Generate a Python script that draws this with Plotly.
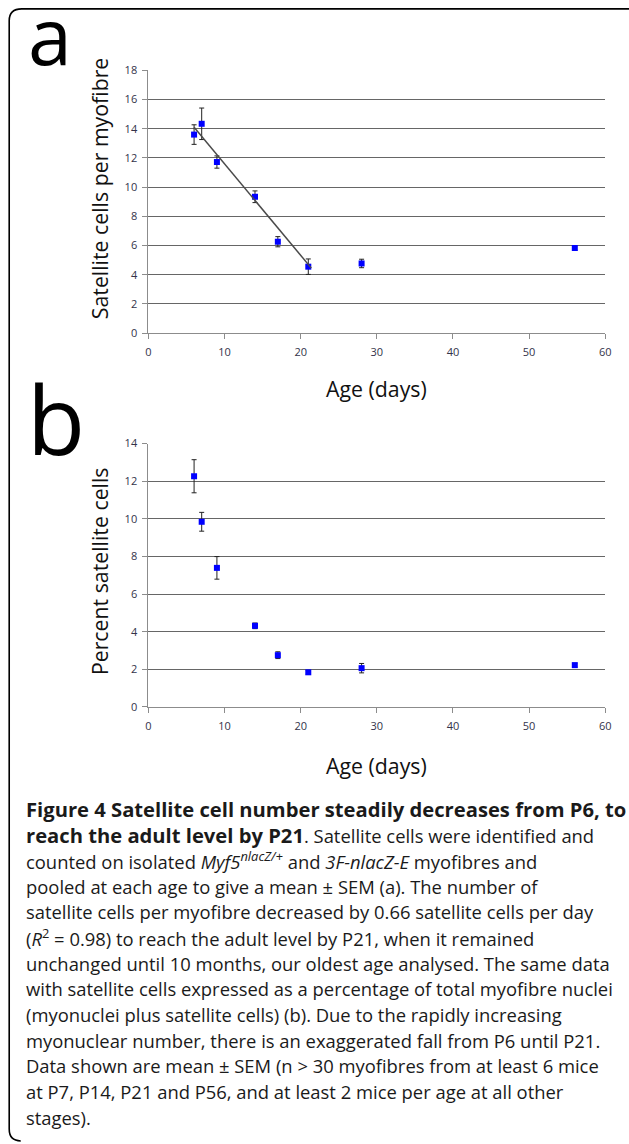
import plotly.graph_objects as go

W, H = 629, 1144

# ---------------- data ----------------
age = [6, 7, 9, 14, 17, 21, 28, 56]
sc_per_fibre = [13.6, 14.34, 11.72, 9.34, 6.26, 4.55, 4.77, 5.83]
sc_per_fibre_sem = [0.67, 1.08, 0.42, 0.40, 0.35, 0.53, 0.29, 0.15]
trend_x = [6, 21.4]
trend_y = [14.1, 4.45]
pct_sc = [12.26, 9.84, 7.39, 4.31, 2.75, 1.84, 2.06, 2.22]
pct_sc_sem = [0.88, 0.50, 0.60, 0.15, 0.18, 0.10, 0.25, 0.10]

x_ticks = [0, 10, 20, 30, 40, 50, 60]
ya_ticks = [0, 2, 4, 6, 8, 10, 12, 14, 16, 18]
yb_ticks = [0, 2, 4, 6, 8, 10, 12, 14]

B = '<span style="font-size:20.2px"><b>'
E = '</b></span>'
caption_lines = [
    B + "Figure 4 Satellite cell number steadily decreases from P6, to" + E,
    B + "reach the adult level by P21" + E + ". Satellite cells were identified and",
    "counted on isolated <i>Myf5</i><sup><i>nlacZ/+</i></sup> and <i>3F-nlacZ-E</i> myofibres and",
    "pooled at each age to give a mean ± SEM (a). The number of",
    "satellite cells per myofibre decreased by 0.66 satellite cells per day",
    "(<i>R</i><sup>2</sup> = 0.98) to reach the adult level by P21, when it remained",
    "unchanged until 10 months, our oldest age analysed. The same data",
    "with satellite cells expressed as a percentage of total myofibre nuclei",
    "(myonuclei plus satellite cells) (b). Due to the rapidly increasing",
    "myonuclear number, there is an exaggerated fall from P6 until P21.",
    "Data shown are mean ± SEM (n &gt; 30 myofibres from at least 6 mice",
    "at P7, P14, P21 and P56, and at least 2 mice per age at all other",
    "stages).",
]

# ---------------- helpers (pixels -> paper) ----------------
def px(x):
    return x / W

def py(y):
    return 1 - y / H

marker = dict(symbol="square", size=6, color="#0000ff")
err_style = dict(type="data", visible=True, color="#222222", thickness=1, width=2.5)

fig = go.Figure()

fig.add_trace(go.Scatter(
    x=age, y=sc_per_fibre, mode="markers", marker=marker,
    error_y=dict(array=sc_per_fibre_sem, **err_style),
    xaxis="x", yaxis="y", showlegend=False, cliponaxis=False))
fig.add_trace(go.Scatter(
    x=trend_x, y=trend_y, mode="lines", line=dict(color="#4a4a4a", width=1.5),
    xaxis="x", yaxis="y", showlegend=False))
fig.add_trace(go.Scatter(
    x=age, y=pct_sc, mode="markers", marker=marker,
    error_y=dict(array=pct_sc_sem, **err_style),
    xaxis="x2", yaxis="y2", showlegend=False, cliponaxis=False))

tickfont = dict(family="Open Sans", size=11, color="#33334a")
xdom = [px(147.5), px(611)]

common_x = dict(range=[0, 60], tickvals=x_ticks, showgrid=False, zeroline=False,
                showline=True, linecolor="#8c8c8c", linewidth=1,
                ticks="outside", ticklen=5, tickcolor="#8c8c8c", tickfont=tickfont,
                ticklabelstandoff=4, domain=xdom)
common_y = dict(showgrid=True, gridcolor="#666666", gridwidth=1, zeroline=False,
                showline=True, linecolor="#8c8c8c", linewidth=1,
                ticks="outside", ticklen=5, tickcolor="#8c8c8c", tickfont=tickfont,
                ticklabelstandoff=3)

fig.update_layout(
    width=W, height=H, margin=dict(l=0, r=0, t=0, b=0),
    paper_bgcolor="white", plot_bgcolor="white",
    xaxis=dict(anchor="y", **common_x),
    yaxis=dict(anchor="x", range=[0, 18], tickvals=ya_ticks,
               domain=[py(329.4), py(63.2)], **common_y),
    xaxis2=dict(anchor="y2", **common_x),
    yaxis2=dict(anchor="x2", range=[0, 14], tickvals=yb_ticks,
                domain=[py(708.2), py(441.3)], **common_y),
)

title_font = dict(family="Open Sans", size=21.3, color="#111111")
ann = []
ann.append(dict(text="Satellite cells per myofibre", x=px(98), y=py(183), xref="paper", yref="paper",
                textangle=-90, showarrow=False, font=title_font, xanchor="center", yanchor="middle"))
ann.append(dict(text="Age (days)", x=px(379), y=py(386), xref="paper", yref="paper",
                showarrow=False, font=title_font, xanchor="center", yanchor="middle"))
ann.append(dict(text="Percent satellite cells", x=px(98), y=py(571), xref="paper", yref="paper",
                textangle=-90, showarrow=False, font=title_font, xanchor="center", yanchor="middle"))
ann.append(dict(text="Age (days)", x=px(379), y=py(768), xref="paper", yref="paper",
                showarrow=False, font=title_font, xanchor="center", yanchor="middle"))
ann.append(dict(text="a", x=px(23), y=py(27), xref="paper", yref="paper", showarrow=False,
                font=dict(family="Open Sans", size=79, color="black"), xanchor="left", yanchor="middle"))
ann.append(dict(text="b", x=px(22), y=py(415.5), xref="paper", yref="paper", showarrow=False,
                font=dict(family="Open Sans", size=95, color="black"), xanchor="left", yanchor="middle"))
for i, line in enumerate(caption_lines):
    ann.append(dict(text=line, x=px(21), y=py(812 + 26.0 * i), xref="paper", yref="paper",
                    showarrow=False, xanchor="left", yanchor="middle", align="left",
                    font=dict(family="Open Sans", size=18.4, color="#1a1a1a")))
fig.update_layout(annotations=ann)

# rounded border (top and left sides)
path = (f"M {px(640)},{py(0.9)} L {px(19)},{py(0.9)} Q {px(6.3)},{py(0.9)} {px(6.3)},{py(13)} "
        f"L {px(6.3)},{py(1136)} Q {px(6.3)},{py(1148)} {px(18)},{py(1148)}")
fig.add_shape(type="path", path=path, xref="paper", yref="paper",
              line=dict(color="black", width=1.6))

fig.write_html("out.html", config={"displayModeBar": False},
               post_script="document.body.style.margin='0px';document.body.style.padding='0px';"
                           "document.body.style.overflow='hidden';")
